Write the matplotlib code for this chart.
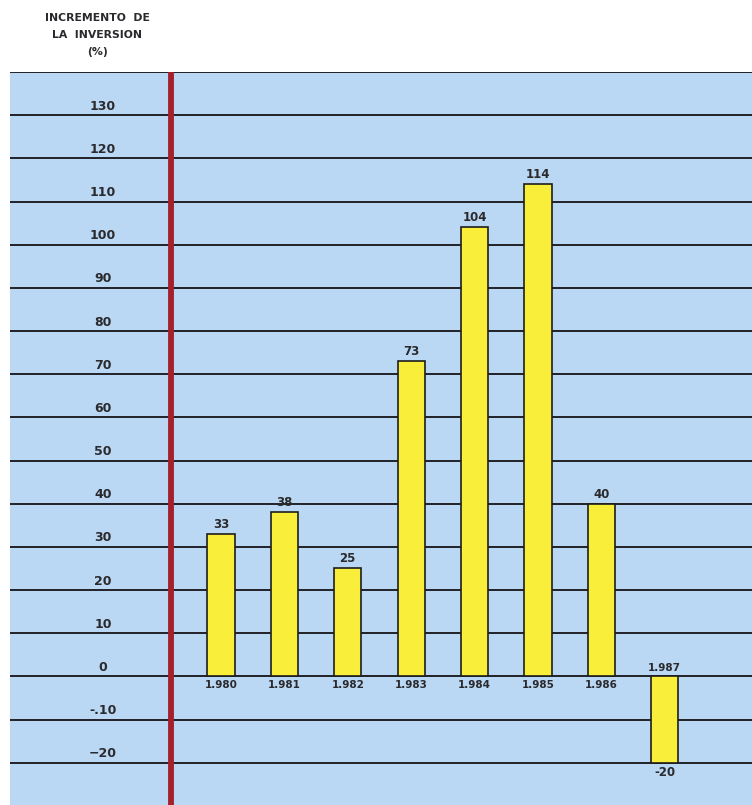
import matplotlib
matplotlib.use("Agg")
import matplotlib.pyplot as plt

# Investment growth by year (%)
years = ["1.980", "1.981", "1.982", "1.983", "1.984", "1.985", "1.986", "1.987"]
values = [33, 38, 25, 73, 104, 114, 40, -20]
value_labels = ["33", "38", "25", "73", "104", "114", "40", "-20"]

# Horizontal rules and their printed labels
grid_levels = [140, 130, 120, 110, 100, 90, 80, 70, 60, 50, 40, 30, 20, 10, 0, -10, -20]
tick_levels = [130, 120, 110, 100, 90, 80, 70, 60, 50, 40, 30, 20, 10, 0, -10, -20]
tick_labels = ["130", "120", "110", "100", "90", "80", "70", "60", "50", "40",
               "30", "20", "10", "0", "-.10", "\u221220"]

title_text = "INCREMENTO  DE\nLA  INVERSION\n(%)"

W, H = 752, 805
fig = plt.figure(figsize=(W / 100, H / 100), dpi=100)
fig.patch.set_facecolor("white")

panel_left, panel_right, panel_top = 10, 752, 72
ax = fig.add_axes([panel_left / W, 0, (panel_right - panel_left) / W, (H - panel_top) / H])
ax.set_facecolor("#bad8f3")

x0_px, step_px = 221, 63.4
ax.set_xlim((panel_left - x0_px) / step_px, (panel_right - x0_px) / step_px)
ax.set_ylim(-29.8, 140)
for s in ax.spines.values():
    s.set_visible(False)
ax.set_xticks([])
ax.set_yticks([])

px = 10 / 43.3  # data units per pixel (vertical)

# Horizontal rules
for lv in grid_levels:
    ax.axhline(lv, color="#202028", lw=1.4, zorder=2)

# Red vertical axis bar
red_x = (170.5 - x0_px) / step_px
ax.axvline(red_x, color="#a3202c", lw=4.2, zorder=3)

# Bars
bar_w = 0.43
for i, v in enumerate(values):
    ax.bar(i, v, width=bar_w, color="#f9ef3a", edgecolor="#1e1e1e", lw=1.2, zorder=4)

font = dict(family="DejaVu Sans", color="#2a2a2e")

# Value labels and year labels
for i, (v, lab, yr) in enumerate(zip(values, value_labels, years)):
    if v >= 0:
        ax.text(i, v + 3 * px, lab, ha="center", va="bottom", fontsize=8.5,
                fontweight="semibold", zorder=5, **font)
        ax.text(i, -3.5 * px, yr, ha="center", va="top", fontsize=7.5,
                fontweight="semibold", zorder=5, **font)
    else:
        ax.text(i, v - 3.5 * px, lab, ha="center", va="top", fontsize=8.5,
                fontweight="semibold", zorder=5, **font)
        ax.text(i, 3 * px, yr, ha="center", va="bottom", fontsize=7.5,
                fontweight="semibold", zorder=5, **font)

# Axis value labels above each rule
label_x = (103 - x0_px) / step_px
for lv, lab in zip(tick_levels, tick_labels):
    ax.text(label_x, lv + 9 * px, lab, ha="center", va="center", fontsize=9,
            fontweight="semibold", zorder=5, **font)

# Heading
fig.text(97 / W, 1 - 35 / H, title_text, ha="center", va="center", fontsize=7.8,
         fontweight="semibold", linespacing=1.85, **font)

fig.savefig("out.png", dpi=100)
